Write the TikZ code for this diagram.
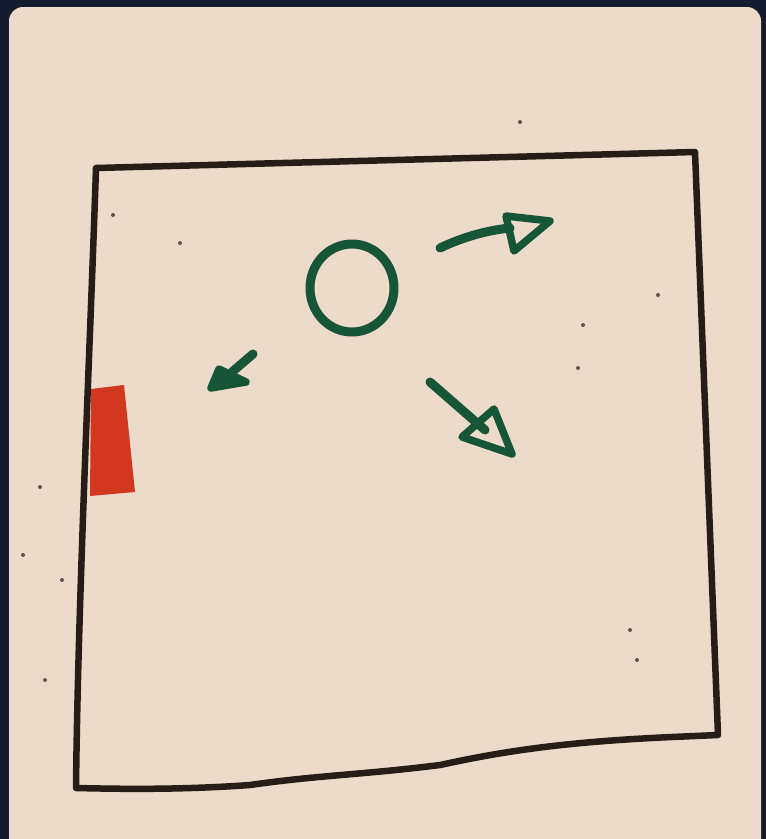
\documentclass[tikz,border=0pt]{standalone}
\usepackage{xcolor}
\definecolor{cBack}{HTML}{141B2E}
\definecolor{cPaper}{HTML}{ECDACB}
\definecolor{cInk}{HTML}{261C18}
\definecolor{cGreen}{HTML}{165537}
\definecolor{cRed}{HTML}{D2381F}
\usetikzlibrary{calc}
\tikzset{
  pen-ink/.style={draw=cInk,line width=6.5pt,line cap=round,line join=round},
  pen-green/.style={draw=cGreen,line width=9pt,line cap=round,line join=round},
  head-green/.style={draw=cGreen,line width=7.5pt,line join=round,line cap=round},
  speck/.style={fill=cInk!75,inner sep=0pt,minimum size=4pt,circle},
}
\begin{document}
\begin{tikzpicture}[x=1pt,y=-1pt]
  % sheet
  \useasboundingbox (0,0) rectangle (766,839);
  \fill[cBack] (0,0) rectangle (766,839);
  \fill[cPaper,rounded corners=14pt] (9,7) rectangle (761,870);

  % red marker block
  \fill[cRed] (91,389) -- (124,385) -- (135,492) -- (90,496) -- cycle;

  % the box
  \draw[pen-ink] (96,168) -- (695,152) -- (718,735) -- (672,737)
    .. controls (560,742) and (500,752) .. (440,765)
    .. controls (360,775) and (320,775) .. (250,785)
    .. controls (180,790) and (120,789) .. (76,788)
    .. controls (78,600) and (90,350) .. (96,168);

  % ball
  \draw[pen-green] (352,288) ellipse (42pt and 44pt);

  % arrows
  \coordinate (a1s) at (440,248);
  \coordinate (a1e) at (510,228);
  \draw[pen-green] (a1s) .. controls (465,236) and (490,230) .. (a1e);
  \draw[head-green] (506,216) -- (550,221) -- (514,251) -- cycle;

  \coordinate (a2s) at (430,382);
  \coordinate (a2e) at (485,430);
  \draw[pen-green] (a2s) -- (a2e);
  \draw[head-green] (462,437) -- (494,409) -- (512,454) -- cycle;

  \coordinate (a3s) at (253,354);
  \coordinate (a3e) at (232,372);
  \draw[pen-green] (a3s) -- (a3e);
  \draw[head-green,fill=cGreen] (211,388) -- (219,369) -- (246,382) -- cycle;

  % specks
  \foreach \px/\py in {180/243, 658/295, 583/325, 578/368, 630/630, 637/660,
                       40/487, 23/555, 62/580, 45/680, 113/215, 520/122}
    \node[speck] (s-\px) at (\px,\py) {};
\end{tikzpicture}
\end{document}
